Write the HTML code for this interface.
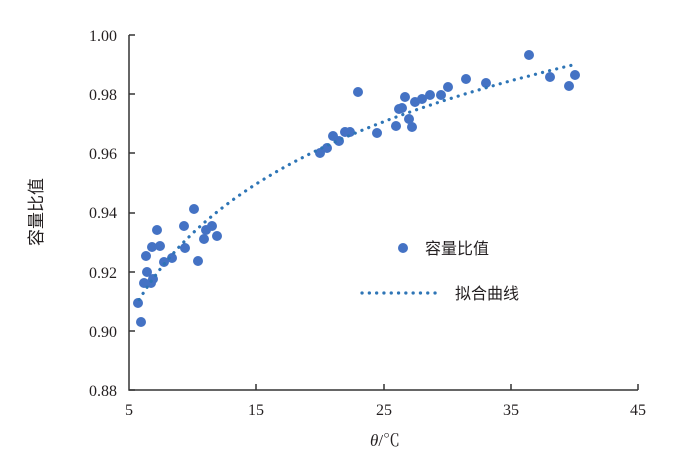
<!DOCTYPE html>
<html><head><meta charset="utf-8"><style>
html,body{margin:0;padding:0;background:#fff;}
svg{display:block;}
text{font-family:"Liberation Serif","Noto Serif CJK SC",serif;fill:#231f20;}
</style></head><body>
<svg id="s" width="678" height="475" viewBox="0 0 678 475" xmlns="http://www.w3.org/2000/svg">
<g font-size="16" text-anchor="end">
<text x="117" y="41">1.00</text>
<text x="117" y="100">0.98</text>
<text x="117" y="159">0.96</text>
<text x="117" y="218">0.94</text>
<text x="117" y="278">0.92</text>
<text x="117" y="337">0.90</text>
<text x="117" y="396">0.88</text>
</g>
<g font-size="16" text-anchor="middle">
<text x="129" y="415">5</text>
<text x="256" y="415">15</text>
<text x="384" y="415">25</text>
<text x="511" y="415">35</text>
<text x="638" y="415">45</text>
</g>
<text x="385" y="446" font-size="17" text-anchor="middle"><tspan font-style="italic">θ</tspan>/℃</text>
<text transform="translate(42,212) rotate(-90)" font-size="17" text-anchor="middle" style="font-family:'Noto Sans CJK SC',sans-serif">容量比值</text>
<g stroke="#333" stroke-width="1.5" fill="none">
<path d="M129,35V390H638"/>
<path d="M129,35h6M129,94h6M129,153h6M129,213h6M129,272h6M129,331h6M129,390h6"/>
<path d="M256,390v-6M384,390v-6M511,390v-6M638,390v-6"/>
</g>
<g id="dots" fill="#4472c4"></g>
<polyline id="fit" fill="none" stroke="#2e75b6" stroke-width="3.2" stroke-dasharray="0.1 7.2" stroke-linecap="round"/>
<circle cx="403" cy="248" r="5" fill="#4472c4"/>
<text x="425" y="254" font-size="16" style="font-family:'Noto Sans CJK SC',sans-serif">容量比值</text>
<line x1="362" y1="293" x2="440" y2="293" stroke="#2e75b6" stroke-width="3.2" stroke-dasharray="0.1 7.2" stroke-linecap="round"/>
<text x="455" y="299" font-size="16" style="font-family:'Noto Sans CJK SC',sans-serif">拟合曲线</text>
</svg>
<script>
var pts=[[194,209],[184,226],[157,230],[152,247],[160,246],[146,256],[164,262],[172,258],[185,248],[198,261],[206,230],[212,226],[204,239],[217,236],[147,272],[144,283],[153,279],[151,283],[138,303],[141,322],
[320,153],[327,148],[333,136],[339,141],[345,132],[350,132],[358,92],[377,133],[396,126],[399,109],[402,108],[405,97],[409,119],[412,127],[415,102],[422,99],[430,95],[441,95],[448,87],[466,79],[486,83],[529,55],[550,77],[569,86],[575,75]];
var g=document.getElementById('dots'),ns='http://www.w3.org/2000/svg';
pts.forEach(function(p){var c=document.createElementNS(ns,'circle');c.setAttribute('cx',p[0]);c.setAttribute('cy',p[1]);c.setAttribute('r',5);g.appendChild(c);});
var s='';for(var x=5.8;x<=40.01;x+=0.2){var y=0.912+0.04112*Math.log(x/6);s+=(129+(x-5)*12.725).toFixed(1)+','+(35+(1-y)/0.02*59.2).toFixed(1)+' ';}
document.getElementById('fit').setAttribute('points',s);
</script>
</body></html>
